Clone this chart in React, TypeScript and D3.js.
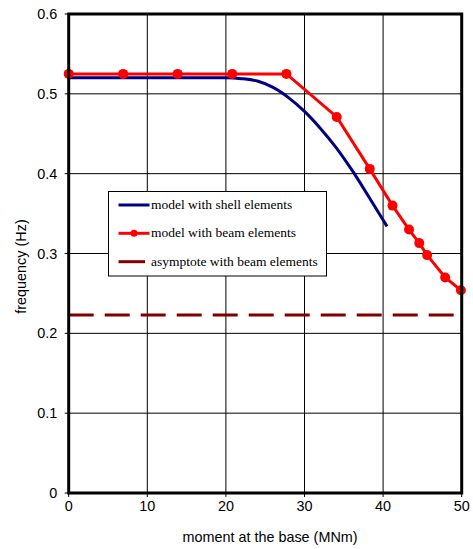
import React from "react";
import * as d3 from "d3";

const beamX = [0, 6.93, 13.86, 20.8, 27.7, 34.1, 38.3, 41.2, 43.3, 44.6, 45.6, 47.9, 49.9];
const beamY = [0.525, 0.525, 0.525, 0.525, 0.525, 0.471, 0.406, 0.36, 0.33, 0.313, 0.298, 0.27, 0.254];
const shellX = [0, 5, 10, 15, 20, 22, 24, 26, 28, 30, 32, 34, 36, 38, 40, 40.5];
const shellY = [0.52, 0.52, 0.52, 0.52, 0.52, 0.519, 0.516, 0.508, 0.495, 0.478, 0.457, 0.433, 0.405, 0.374, 0.342, 0.334];
const asymptote = 0.223;
const xTicks = [0, 10, 20, 30, 40, 50];
const yTicks = [0, 0.1, 0.2, 0.3, 0.4, 0.5, 0.6];
const legendLabels = ["model with shell elements", "model with beam elements", "asymptote with beam elements"];

export default function App() {
  const W = 473, H = 549;
  const L = 68.7, R = 461.7, T = 14, B = 493;
  const x = d3.scaleLinear().domain([0, 50]).range([L, R]);
  const y = d3.scaleLinear().domain([0, 0.6]).range([B, T]);
  const shellPath = d3.line<[number, number]>().x(d => x(d[0])).y(d => y(d[1])).curve(d3.curveMonotoneX)(shellX.map((v, i) => [v, shellY[i]] as [number, number]));
  const beamPath = d3.line<[number, number]>().x(d => x(d[0])).y(d => y(d[1]))(beamX.map((v, i) => [v, beamY[i]] as [number, number]));
  const sans = "'Liberation Sans', Arial, sans-serif";
  const serif = "'Liberation Serif', 'Times New Roman', serif";
  const legX = 108.5, legY = 191.5, legW = 218, legH = 84.5;
  const rowY = [205, 233.3, 261.7];
  const fs = 14.4;
  return (
    <svg width={W} height={H} style={{ position: "absolute", left: 0, top: 0 }}>
      <rect x={0} y={0} width={W} height={H} fill="#fff" />
      {xTicks.slice(1, -1).map(t => (
        <line key={"gx" + t} x1={x(t)} x2={x(t)} y1={T} y2={B} stroke="#000" strokeWidth={1} />
      ))}
      {yTicks.slice(1, -1).map(t => (
        <line key={"gy" + t} x1={L} x2={R} y1={y(t)} y2={y(t)} stroke="#000" strokeWidth={1} />
      ))}
      {xTicks.map(t => (
        <g key={"tx" + t}>
          <line x1={x(t)} x2={x(t)} y1={B} y2={B + 4} stroke="#000" />
          <text x={x(t)} y={510.5} textAnchor="middle" fontFamily={sans} fontSize={fs}>{t}</text>
        </g>
      ))}
      {yTicks.map(t => (
        <g key={"ty" + t}>
          <line x1={L - 4} x2={L} y1={y(t)} y2={y(t)} stroke="#000" />
          <text x={L - 11.5} y={y(t) + 5} textAnchor="end" fontFamily={sans} fontSize={fs}>{t === 0 ? "0" : t.toFixed(1)}</text>
        </g>
      ))}
      <text x={270} y={541.5} textAnchor="middle" fontFamily={sans} fontSize={fs}>moment at the base (MNm)</text>
      <text transform={`translate(25.5,266.5) rotate(-90)`} textAnchor="middle" fontFamily={sans} fontSize={fs}>frequency (Hz)</text>
      <line x1={L} x2={R} y1={y(asymptote)} y2={y(asymptote)} stroke="#800000" strokeWidth={3} strokeDasharray="25 11" />
      <path d={shellPath || ""} fill="none" stroke="#000080" strokeWidth={3} />
      <path d={beamPath || ""} fill="none" stroke="#ff0000" strokeWidth={3} />
      {beamX.map((v, i) => (
        <circle key={"p" + i} cx={x(v)} cy={y(beamY[i])} r={5} fill="#ff0000" />
      ))}
      <rect x={L} y={T} width={R - L} height={B - T} fill="none" stroke="#000" strokeWidth={3} />
      <rect x={legX} y={legY} width={legW} height={legH} fill="#fff" stroke="#000" strokeWidth={1} />
      <line x1={118.5} x2={149.5} y1={rowY[0]} y2={rowY[0]} stroke="#000080" strokeWidth={3} />
      <line x1={118.5} x2={149.5} y1={rowY[1]} y2={rowY[1]} stroke="#ff0000" strokeWidth={3} />
      <circle cx={134} cy={rowY[1]} r={3.5} fill="#ff0000" />
      <line x1={118.5} x2={145} y1={rowY[2]} y2={rowY[2]} stroke="#800000" strokeWidth={3} />
      {legendLabels.map((s, i) => (
        <text key={s} x={151} y={rowY[i] + 4} fontFamily={serif} fontSize={13.5} fill="#000">{s}</text>
      ))}
    </svg>
  );
}
